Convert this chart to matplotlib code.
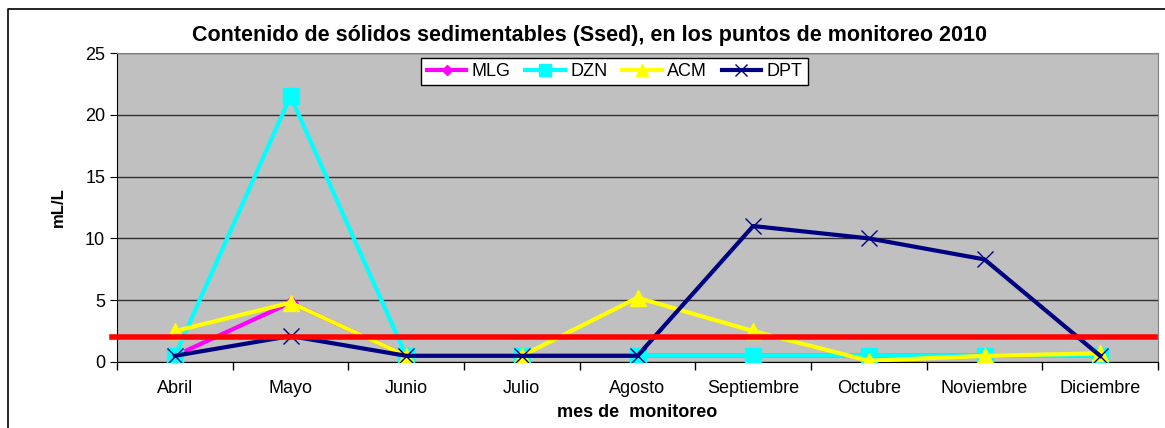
import matplotlib
matplotlib.use("Agg")
from matplotlib import pyplot as plt
from matplotlib.lines import Line2D

plt.rcParams['font.family'] = ['Liberation Sans', 'DejaVu Sans']

# Datos
meses = ['Abril', 'Mayo', 'Junio', 'Julio', 'Agosto', 'Septiembre',
         'Octubre', 'Noviembre', 'Diciembre']
mlg = [0.5, 4.8, 0.5, 0.5, 0.5, 0.5, 0.5, 0.5, 0.5]
dzn = [0.5, 21.5, 0.5, 0.5, 0.5, 0.5, 0.5, 0.5, 0.5]
acm = [2.5, 4.8, 0.5, 0.5, 5.2, 2.5, 0.1, 0.5, 0.7]
dpt = [0.5, 2.1, 0.5, 0.5, 0.5, 11.0, 10.0, 8.3, 0.5]
limite = 2

W, H = 1165, 428
fig = plt.figure(figsize=(W / 100, H / 100), dpi=100)
ax = fig.add_axes([117 / W, 1 - 362 / H, (1158 - 117) / W, (362 - 53) / H])
ax.set_facecolor('#C0C0C0')

# Borde exterior del gráfico
fig.add_artist(Line2D([8 / W, 8 / W, 1.0], [0.0, 1 - 9 / H, 1 - 9 / H],
                      transform=fig.transFigure, color='black', lw=1.2))

x = range(len(meses))
ax.plot(x, mlg, color='#FF00FF', marker='D', markersize=7, lw=3, label='MLG', zorder=3)
ax.plot(x, dzn, color='#00FFFF', marker='s', markersize=11, lw=3, label='DZN', zorder=4)
ax.plot(x, acm, color='#FFFF00', marker='^', markersize=12, lw=3, label='ACM', zorder=5)
ax.plot(x, dpt, color='#000080', marker='x', markersize=11, mew=1.0, lw=3, label='DPT', zorder=6)

# Línea de límite
ax.axhline(limite, xmin=-0.005, xmax=0.997, color='#FF0000', lw=4, clip_on=False, zorder=7)

ax.set_xlim(-0.5, len(meses) - 0.5)
ax.set_ylim(0, 25)
ax.set_yticks(range(0, 26, 5))
ax.set_xticks(x)
ax.set_xticklabels(meses, fontsize=13)
ax.set_xticks([i - 0.5 for i in range(len(meses) + 1)], minor=True)
ax.tick_params(axis='x', which='major', length=0, pad=13)
ax.tick_params(axis='x', which='minor', length=6, width=1)
ax.tick_params(axis='y', labelsize=13, length=5)
ax.grid(axis='y', color='#303030', lw=1)
ax.set_axisbelow(True)
for s in ['top', 'right']:
    ax.spines[s].set_color('#808080')
for s in ['left', 'bottom']:
    ax.spines[s].set_color('black')

ax.set_ylabel('mL/L', fontsize=12, fontweight='bold', labelpad=14)
ax.set_xlabel('mes de  monitoreo', fontsize=13, fontweight='bold', labelpad=5)
fig.text((172 + 1007) / 2 / W, 1 - 35 / H,
         'Contenido de sólidos sedimentables (Ssed), en los puntos de monitoreo 2010',
         ha='center', va='center', fontsize=15.5, fontweight='bold')

leg = ax.legend(loc='upper center', bbox_to_anchor=(0.478, 0.985), ncol=4, fontsize=13,
                frameon=True, fancybox=False, edgecolor='black', framealpha=1,
                handlelength=2.2, borderpad=0.3, columnspacing=0.8, handletextpad=0.3,
                borderaxespad=0.0, markerscale=0.75)
leg.get_frame().set_linewidth(1)
leg.set_zorder(10)

fig.savefig('out.png', dpi=100)
